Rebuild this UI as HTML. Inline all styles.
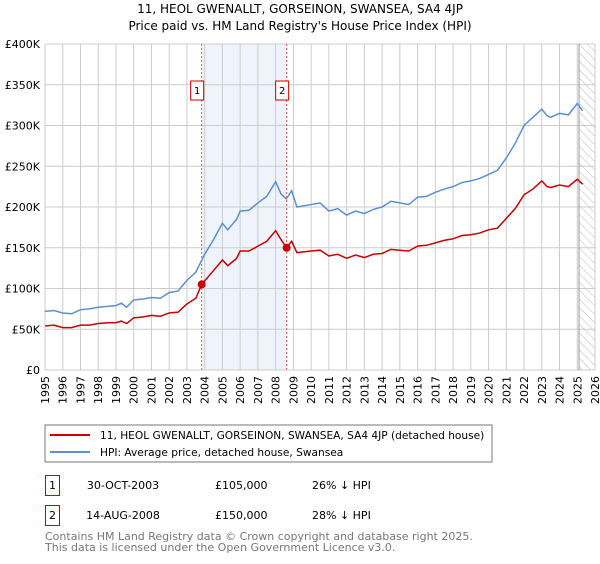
<!DOCTYPE html>
<html><head><meta charset="utf-8"><style>
body{margin:0;background:#fff;font-family:"DejaVu Sans","Liberation Sans",sans-serif;}
svg text{font-family:"DejaVu Sans","Liberation Sans",sans-serif;}
</style></head><body>
<svg id="chart" width="600" height="560" xmlns="http://www.w3.org/2000/svg">
<defs><pattern id="hatch" width="6" height="6" patternUnits="userSpaceOnUse" patternTransform="rotate(-45)"><line x1="0" y1="0" x2="0" y2="6" stroke="#bbb" stroke-width="1"/></pattern></defs>
<text x="300" y="13" text-anchor="middle" font-size="12">11, HEOL GWENALLT, GORSEINON, SWANSEA, SA4 4JP</text>
<text x="300" y="30" text-anchor="middle" font-size="12">Price paid vs. HM Land Registry's House Price Index (HPI)</text>
<g id="grid"></g><g id="marks"></g>
<rect x="45" y="425" width="447" height="37" fill="#fff" stroke="#777"/>
<line x1="50" y1="435" x2="90" y2="435" stroke="#cc0000" stroke-width="2"/>
<text x="100" y="439" font-size="10.6">11, HEOL GWENALLT, GORSEINON, SWANSEA, SA4 4JP (detached house)</text>
<line x1="50" y1="452" x2="90" y2="452" stroke="#5b8fd4" stroke-width="2"/>
<text x="100" y="456" font-size="10.6">HPI: Average price, detached house, Swansea</text>
<g font-size="11">
<rect x="45.5" y="475.5" width="14" height="20" fill="#fff" stroke="#cc0000"/>
<text x="52.5" y="489" text-anchor="middle">1</text>
<text x="123" y="489" text-anchor="middle">30-OCT-2003</text>
<text x="215" y="489">£105,000</text>
<text x="312" y="489">26% ↓ HPI</text>
<rect x="45.5" y="505.5" width="14" height="20" fill="#fff" stroke="#cc0000"/>
<text x="52.5" y="519" text-anchor="middle">2</text>
<text x="123" y="519" text-anchor="middle">14-AUG-2008</text>
<text x="215" y="519">£150,000</text>
<text x="312" y="519">28% ↓ HPI</text>
</g>
<text x="45" y="540" font-size="11" fill="#777">Contains HM Land Registry data © Crown copyright and database right 2025.</text>
<text x="45" y="551" font-size="11" fill="#777">This data is licensed under the Open Government Licence v3.0.</text>
</svg>
<script>
const yTicks=[0,50000,100000,150000,200000,250000,300000,350000,400000];
const yTickLabels=["£0","£50K","£100K","£150K","£200K","£250K","£300K","£350K","£400K"];
const xYears=[1995,1996,1997,1998,1999,2000,2001,2002,2003,2004,2005,2006,2007,2008,2009,2010,2011,2012,2013,2014,2015,2016,2017,2018,2019,2020,2021,2022,2023,2024,2025,2026];
const hpiT=[1995,1995.5,1996,1996.5,1997,1997.5,1998,1998.5,1999,1999.3,1999.6,2000,2000.5,2001,2001.5,2002,2002.5,2003,2003.5,2004,2004.5,2005,2005.3,2005.8,2006,2006.5,2007,2007.5,2008,2008.3,2008.6,2008.9,2009.2,2010,2010.5,2011,2011.5,2012,2012.5,2013,2013.5,2014,2014.5,2015,2015.5,2016,2016.5,2017,2017.5,2018,2018.5,2019,2019.5,2020,2020.5,2021,2021.5,2022,2022.5,2023,2023.3,2023.5,2024,2024.5,2025,2025.3];
const hpiV=[72,73,70,69,74,75,77,78,79,82,77,86,87,89,88,95,97,110,120,142,160,180,172,185,195,196,205,213,231,216,210,220,200,203,205,195,198,190,195,192,197,200,207,205,203,212,213,218,222,225,230,232,235,240,245,260,278,300,310,320,312,310,315,313,327,318];
const priceT=[1995,1995.5,1996,1996.5,1997,1997.5,1998,1998.5,1999,1999.3,1999.6,2000,2000.5,2001,2001.5,2002,2002.5,2003,2003.5,2003.83,2004.5,2005,2005.3,2005.8,2006,2006.5,2007,2007.5,2008,2008.3,2008.62,2008.9,2009.2,2010,2010.5,2011,2011.5,2012,2012.5,2013,2013.5,2014,2014.5,2015,2015.5,2016,2016.5,2017,2017.5,2018,2018.5,2019,2019.5,2020,2020.5,2021,2021.5,2022,2022.5,2023,2023.3,2023.5,2024,2024.5,2025,2025.3];
const priceV=[54,55,52,52,55,55,57,58,58,60,57,64,65,67,66,70,71,81,88,105,122,135,128,137,146,146,152,158,171,160,150,158,144,146,147,140,142,137,141,138,142,143,148,147,146,152,153,156,159,161,165,166,168,172,174,186,198,215,222,232,225,224,227,225,234,228];
const sales=[{t:2003.83,v:105,label:"1"},{t:2008.62,v:150,label:"2"}];
const x0=45,x1=595,y0=370,y1=44;
const X=t=>x0+(t-1995)/(2026-1995)*(x1-x0);
const Y=v=>y0-v/400000*(y0-y1);
const ns="http://www.w3.org/2000/svg";
const grid=document.getElementById('grid'),marks=document.getElementById('marks');
function mk(p,tag,attrs){const e=document.createElementNS(ns,tag);for(const k in attrs)e.setAttribute(k,attrs[k]);p.appendChild(e);return e;}
let r=mk(grid,'rect',{x:X(sales[0].t),y:y1,width:X(sales[1].t)-X(sales[0].t),height:y0-y1,fill:'#eef3fc'});


r=mk(grid,'rect',{x:X(2025.1),y:y1,width:x1-X(2025.1),height:y0-y1,fill:'url(#hatch)'});


yTicks.forEach((v,i)=>{
 const l=mk(grid,'line',{x1:x0,x2:x1,y1:Y(v),y2:Y(v),stroke:'#ccc'});
 
 
 const t=mk(grid,'text',{x:40,y:Y(v)+4,'text-anchor':'end','font-size':'11'});t.textContent=yTickLabels[i];
 
 
});
xYears.forEach(yr=>{
 const l=mk(grid,'line',{x1:X(yr),x2:X(yr),y1:y1,y2:y0,stroke:'#ccc'});
 
 
 const t=mk(grid,'text',{x:0,y:0,'font-size':'11','text-anchor':'end',transform:`translate(${X(yr)+4},${y0+6}) rotate(-90)`});t.textContent=yr;
 
 
});
const v=mk(grid,'line',{x1:X(2025.1),x2:X(2025.1),y1:y1,y2:y0,stroke:'#999'});


function line(T,V,col,name){const p=mk(marks,'polyline',{points:T.map((t,i)=>X(t)+','+Y(V[i]*1000)).join(' '),fill:'none',stroke:col,'stroke-width':1.5});
 
 }
sales.forEach(s=>{
 const l=mk(marks,'line',{x1:X(s.t),x2:X(s.t),y1:y1,y2:y0,stroke:'#e55','stroke-dasharray':'2,2'});
 
 
});
line(hpiT,hpiV,'#5b8fd4','hpi-line');
line(priceT,priceV,'#cc0000','price-line');
sales.forEach(s=>{
 const c=mk(marks,'circle',{cx:X(s.t),cy:Y(s.v*1000),r:4,fill:'#cc0000'});
 
 
 const b=mk(marks,'rect',{x:X(s.t)-11,y:81,width:13,height:19,fill:'#fff',stroke:'#cc0000'});
 
 
 const t=mk(marks,'text',{x:X(s.t)-4.5,y:94,'text-anchor':'middle','font-size':'10'});t.textContent=s.label;
 
 
});
</script>
</body></html>
